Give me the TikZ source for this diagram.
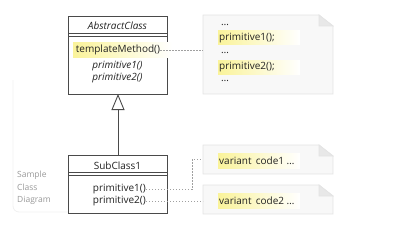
\documentclass[tikz,border=0pt]{standalone}
\usepackage{fontspec}
\setmainfont{Open Sans}
\usetikzlibrary{arrows.meta,calc}
\definecolor{hl}{HTML}{FAF39A}
\definecolor{notefill}{HTML}{F8F8F8}
\definecolor{noteline}{HTML}{E4E4E4}
\definecolor{foldc}{HTML}{E8E8E8}
\definecolor{boxline}{HTML}{4A4A4A}
\definecolor{txt}{HTML}{222222}
\definecolor{dotc}{HTML}{A0A0A0}
\tikzset{
  classbox/.style={draw=boxline, line width=0.9pt, fill=white, inner sep=0pt, anchor=north west},
  txtnode/.style={inner sep=0pt, text=txt, font=\fontsize{10}{12}\selectfont},
  notebody/.style={fill=notefill, draw=noteline, line width=0.8pt},
  foldpart/.style={fill=foldc, draw=noteline, line width=0.8pt},
  dotline/.style={dotc, line width=0.8pt, dash pattern=on 1.2pt off 1.8pt},
  hlshade/.style={left color=hl, right color=hl!0},
  framel/.style={draw=black!6, line width=0.8pt}
}
\begin{document}
\begin{tikzpicture}[x=1pt,y=-1pt]
\useasboundingbox (0,0) rectangle (406,230);
% faint diagram frame
\draw[framel, rounded corners=6pt] (13,80) -- (13,212) -- (68,212);
\node[txtnode, text=black!40, anchor=west, align=left, font=\fontsize{8.5}{12.5}\selectfont] (lbl) at (17,188) {Sample\\Class\\Diagram};

% AbstractClass
\node[classbox, minimum width=99pt, minimum height=78pt] (ac) at (68,16) {};
\draw[boxline, line width=0.8pt] (68,33) -- (167,33) (68,36) -- (167,36);
\node[txtnode, font=\fontsize{10}{12}\selectfont\itshape] (acname) at (117.5,25.5) {AbstractClass};
\shade[hlshade] (73,43) rectangle (172,57);
\node[txtnode] (tm) at (118,50) {templateMethod()};
\node[txtnode, font=\fontsize{10}{12}\selectfont\itshape] (ap1) at (117.5,66.5) {primitive1()};
\node[txtnode, font=\fontsize{10}{12}\selectfont\itshape] (ap2) at (117.5,78.5) {primitive2()};

% SubClass1
\node[classbox, minimum width=99pt, minimum height=58pt] (sc) at (68,155) {};
\draw[boxline, line width=0.8pt] (68,172.5) -- (167,172.5) (68,175.5) -- (167,175.5);
\node[txtnode] (scname) at (117.5,166) {SubClass1};
\node[txtnode, anchor=east] (p1) at (146,189.5) {primitive1()};
\node[txtnode, anchor=east] (p2) at (146,201.5) {primitive2()};

% generalization
\coordinate (tip) at (118,94);
\draw[boxline, line width=0.9pt, -{Triangle[open, width=13pt, length=16pt]}] (sc.north -| tip) -- (tip);

% note 1
\node[minimum width=130pt, minimum height=79pt, inner sep=0pt, anchor=north west] (n1) at (203,15) {};
\draw[notebody] (203,15) -- (319,15) -- (333,26) -- (333,94) -- (203,94) -- cycle;
\draw[foldpart] (319,15) -- (319,26) -- (333,26) -- cycle;
\shade[hlshade] (218,31) rectangle (300,45);
\shade[hlshade] (218,60) rectangle (300,74);
\node[txtnode, anchor=west] (d1) at (221,25) {\ldots};
\node[txtnode, anchor=west] (c1) at (219,38.5) {primitive1();};
\node[txtnode, anchor=west] (d2) at (221,53) {\ldots};
\node[txtnode, anchor=west] (c2) at (219,67) {primitive2();};
\node[txtnode, anchor=west] (d3) at (221,81) {\ldots};

% note 2
\node[minimum width=130pt, minimum height=29pt, inner sep=0pt, anchor=north west] (n2) at (203,145) {};
\draw[notebody] (203,145) -- (319,145) -- (333,156) -- (333,174) -- (203,174) -- cycle;
\draw[foldpart] (319,145) -- (319,156) -- (333,156) -- cycle;
\shade[hlshade] (218,153) rectangle (300,168);
\node[txtnode, anchor=west] (v1) at (219,160.5) {variant\, code1 \ldots};

% note 3
\node[minimum width=130pt, minimum height=29pt, inner sep=0pt, anchor=north west] (n3) at (203,185) {};
\draw[notebody] (203,185) -- (319,185) -- (333,196) -- (333,214) -- (203,214) -- cycle;
\draw[foldpart] (319,185) -- (319,196) -- (333,196) -- cycle;
\shade[hlshade] (218,193) rectangle (300,208);
\node[txtnode, anchor=west] (v2) at (219,200.5) {variant\, code2 \ldots};

% connectors
\draw[dotline] (tm.east) -- (tm.east -| n1.west);
\coordinate (k1) at (192,0);
\draw[dotline] (p1.east) -- (p1.east -| k1) |- (n2.west);
\draw[dotline] (p2.east) -- (p2.east -| n3.west);
\end{tikzpicture}
\end{document}
